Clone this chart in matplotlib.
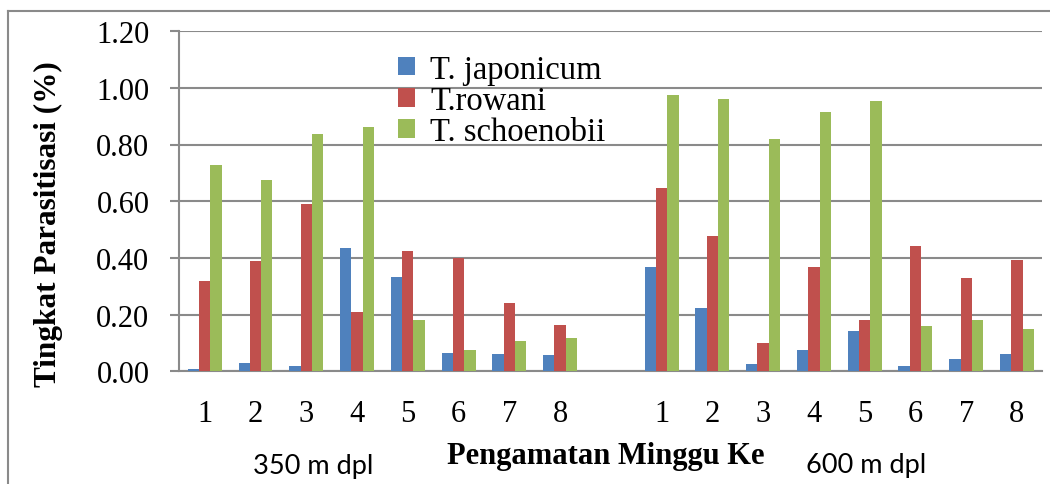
import numpy as np

import matplotlib
matplotlib.use("Agg")
import matplotlib.pyplot as plt
from matplotlib.lines import Line2D


WEEKS = ["1", "2", "3", "4", "5", "6", "7", "8"]
SITES = ["350 m dpl", "600 m dpl"]
SPECIES = ["T. japonicum", "T.rowani", "T. schoenobii"]
COLORS = ["#4F81BD", "#C0504D", "#9BBB59"]

# tingkat parasitisasi (%) per minggu, 350 m dpl
japonicum_350 = [0.01, 0.03, 0.02, 0.435, 0.333, 0.064, 0.061, 0.057]
rowani_350 = [0.319, 0.389, 0.589, 0.208, 0.425, 0.400, 0.241, 0.163]
schoenobii_350 = [0.727, 0.676, 0.837, 0.862, 0.181, 0.076, 0.106, 0.118]

# 600 m dpl
japonicum_600 = [0.369, 0.224, 0.025, 0.076, 0.142, 0.021, 0.045, 0.062]
rowani_600 = [0.648, 0.478, 0.099, 0.369, 0.181, 0.443, 0.330, 0.392]
schoenobii_600 = [0.976, 0.959, 0.820, 0.916, 0.955, 0.159, 0.182, 0.148]

YTICKS = [0.0, 0.2, 0.4, 0.6, 0.8, 1.0, 1.2]

SERIF = ["Liberation Serif", "DejaVu Serif"]
GRID = "#8a8a8a"


def main():
    fig = plt.figure(figsize=(10.5, 4.85), dpi=100)
    ax = fig.add_axes([0.1708, 0.2320, 0.8219, 0.7020])

    # 8 minggu, satu slot kosong, lalu 8 minggu lagi
    x_350 = np.arange(len(WEEKS))
    x_600 = np.arange(len(WEEKS)) + len(WEEKS) + 1
    width = 0.223

    series_350 = [japonicum_350, rowani_350, schoenobii_350]
    series_600 = [japonicum_600, rowani_600, schoenobii_600]

    for i, (label, color) in enumerate(zip(SPECIES, COLORS)):
        off = (i - 1) * width
        ax.bar(x_350 + off, series_350[i], width=width, color=color,
               label=label, zorder=3)
        ax.bar(x_600 + off, series_600[i], width=width, color=color, zorder=3)

    ax.set_xlim(-0.5, x_600[-1] + 0.5)
    ax.set_ylim(0, 1.2)
    ax.set_yticks(YTICKS)
    ax.set_yticklabels([f"{v:.2f}" for v in YTICKS])
    ax.set_xticks(list(x_350) + list(x_600))
    ax.set_xticklabels(WEEKS + WEEKS)

    ax.grid(True, axis="y", color=GRID, linewidth=1.5, zorder=0)
    ax.set_axisbelow(True)
    for side in ["top", "right"]:
        ax.spines[side].set_visible(False)
    for side in ["left", "bottom"]:
        ax.spines[side].set_color(GRID)
        ax.spines[side].set_linewidth(1.5)

    ax.tick_params(axis="y", length=6.5, width=1.5, color=GRID, pad=15,
                   labelsize=22)
    ax.tick_params(axis="x", length=0, pad=20, labelsize=22)
    for t in ax.get_xticklabels() + ax.get_yticklabels():
        t.set_family(SERIF)

    fig.text(48 / 1050, 1 - 224 / 485, "Tingkat Parasitisasi (%)",
             fontsize=22.5, fontweight="bold", family=SERIF, rotation=90,
             ha="center", va="center")

    ax.legend(loc="upper left", bbox_to_anchor=(0.235, 0.98), frameon=False,
              prop={"family": SERIF, "size": 23.5}, handlelength=0.5,
              handleheight=0.5, handletextpad=0.47, labelspacing=0.02,
              borderpad=0)

    fig.text(606 / 1050, 1 - 457 / 485, "Pengamatan Minggu Ke", fontsize=22,
             fontweight="bold", family=SERIF, ha="center", va="center")
    fig.text(313 / 1050, 1 - 474 / 485, SITES[0], fontsize=19.5,
             family=["Lato", "DejaVu Sans"], ha="center", va="baseline")
    fig.text(866 / 1050, 1 - 473 / 485, SITES[1], fontsize=19.5,
             family=["Lato", "DejaVu Sans"], ha="center", va="baseline")

    # bingkai luar (kiri dan atas)
    fig.add_artist(Line2D([8 / 1050, 8 / 1050], [0, 1 - 12 / 485],
                          transform=fig.transFigure, color=GRID, lw=1.5))
    fig.add_artist(Line2D([8 / 1050, 1], [1 - 12 / 485, 1 - 12 / 485],
                          transform=fig.transFigure, color=GRID, lw=1.5))

    fig.savefig("out.png", dpi=100)
    plt.close(fig)


if __name__ == "__main__":
    main()
